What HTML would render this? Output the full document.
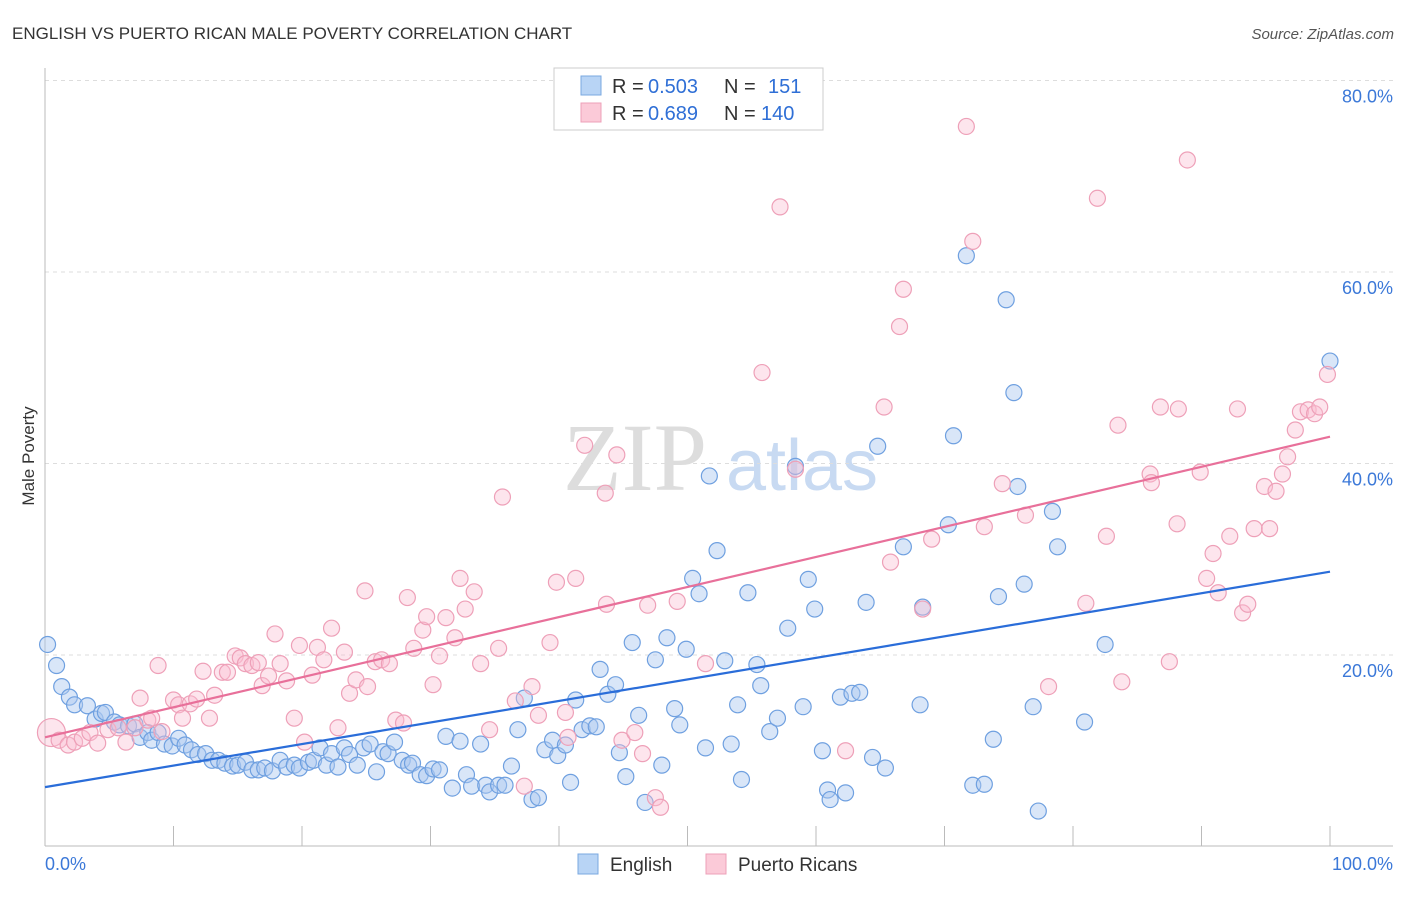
<!DOCTYPE html>
<html><head><meta charset="utf-8"><style>
body{margin:0;background:#fff;font-family:"Liberation Sans",sans-serif;}
</style></head><body>
<svg id="c" width="1406" height="892" xmlns="http://www.w3.org/2000/svg" font-family="Liberation Sans, sans-serif">
<text x="12" y="39" font-size="17" fill="#333">ENGLISH VS PUERTO RICAN MALE POVERTY CORRELATION CHART</text>
<text x="1394" y="39" font-size="15" fill="#555" text-anchor="end" font-style="italic">Source: ZipAtlas.com</text>
<text x="34" y="456" font-size="17" fill="#333" text-anchor="middle" transform="rotate(-90 34 456)">Male Poverty</text>
<g><text x="635" y="490" font-size="96" fill="#ddd" text-anchor="middle" style="font-family:'Liberation Serif',serif">ZIP</text><text x="802" y="490" font-size="72" fill="#c8daf2" text-anchor="middle">atlas</text></g>
<g id="grid"></g><g id="pts"></g><g id="lines"></g>
<g>
<rect x="554" y="68" width="269" height="62" fill="#fff" stroke="#ccc"/>
<rect x="581" y="76" width="20" height="19" fill="#b8d4f5" stroke="#7aa8e0"/>
<rect x="581" y="103" width="20" height="19" fill="#fbcad8" stroke="#eea0b8"/>
<text x="612" y="93" font-size="20" fill="#333">R =</text><text x="648" y="93" font-size="20" fill="#2f6fd6">0.503</text><text x="724" y="93" font-size="20" fill="#333">N =</text><text x="768" y="93" font-size="20" fill="#2f6fd6">151</text>
<text x="612" y="120" font-size="20" fill="#333">R =</text><text x="648" y="120" font-size="20" fill="#2f6fd6">0.689</text><text x="724" y="120" font-size="20" fill="#333">N =</text><text x="761" y="120" font-size="20" fill="#2f6fd6">140</text>
</g>
<g>
<rect x="578" y="854" width="20" height="20" fill="#b8d4f5" stroke="#7aa8e0"/>
<text x="610" y="871" font-size="19" fill="#333">English</text>
<rect x="706" y="854" width="20" height="20" fill="#fbcad8" stroke="#eea0b8"/>
<text x="738" y="871" font-size="19" fill="#333">Puerto Ricans</text>
</g>
</svg>
<script>
const yTicks=[20,40,60,80];
const yTickLabels=["20.0%","40.0%","60.0%","80.0%"];
const englishX=[0.2,0.9,1.3,1.9,2.3,3.3,3.9,4.4,4.7,5.4,5.8,6.5,7.0,7.4,8.0,8.3,8.8,9.3,9.9,10.4,10.9,11.4,11.9,12.5,13.0,13.5,14.0,14.6,15.0,15.6,16.1,16.6,17.1,17.7,18.3,18.8,19.4,19.8,20.5,20.9,21.4,21.9,22.3,22.8,23.3,23.7,24.3,24.8,25.3,25.8,26.3,26.7,27.2,27.8,28.3,28.6,29.2,29.7,30.2,30.7,31.2,31.7,32.3,32.8,33.2,33.9,34.3,34.6,35.3,35.8,36.3,36.8,37.3,37.9,38.4,38.9,39.5,39.9,40.5,40.9,41.3,41.8,42.4,42.9,43.2,43.8,44.4,44.7,45.2,45.7,46.2,46.7,47.5,48.0,48.4,49.0,49.4,49.9,50.4,50.9,51.4,51.7,52.3,52.9,53.4,53.9,54.2,54.7,55.4,55.7,56.4,57.0,57.8,58.4,59.0,59.4,59.9,60.5,60.9,61.1,61.9,62.3,62.8,63.4,63.9,64.4,64.8,65.4,66.8,68.1,68.3,70.3,70.7,71.7,72.2,73.1,73.8,74.2,74.8,75.4,75.7,76.2,76.9,77.3,78.4,78.8,80.9,82.5,100];
const englishY=[21.1,18.9,16.7,15.6,14.8,14.7,13.3,13.9,14.0,13.0,12.7,12.6,12.8,11.4,11.9,11.1,11.9,10.7,10.5,11.3,10.6,10.1,9.6,9.7,9.0,9.0,8.7,8.4,8.5,8.8,8.0,8.0,8.2,7.9,9.0,8.3,8.5,8.2,8.8,9.0,10.3,8.5,9.7,8.3,10.3,9.6,8.5,10.3,10.7,7.8,9.9,9.7,10.9,9.0,8.5,8.7,7.5,7.4,8.1,8.0,11.5,6.1,11.0,7.5,6.3,10.7,6.4,5.7,6.4,6.4,8.4,12.2,15.5,4.9,5.1,10.1,11.1,9.5,10.6,6.7,15.3,12.2,12.6,12.5,18.5,15.9,16.9,9.8,7.3,21.3,13.7,4.6,19.5,8.5,21.8,14.4,12.7,20.6,28.0,26.4,10.3,38.7,30.9,19.4,10.7,14.8,7.0,26.5,19.0,16.8,12.0,13.4,22.8,39.7,14.6,27.9,24.8,10.0,5.9,4.9,15.6,5.6,16.0,16.1,25.5,9.3,41.8,8.2,31.3,14.8,25.0,33.6,42.9,61.7,6.4,6.5,11.2,26.1,57.1,47.4,37.6,27.4,14.6,3.7,35.0,31.3,13.0,21.1,50.7];
const prX=[0.5,1.1,1.8,2.3,2.9,3.5,4.1,4.9,5.7,6.3,7.0,7.4,8.0,8.3,8.8,9.1,10.0,10.4,10.7,11.3,11.8,12.3,12.8,13.2,13.8,14.2,14.8,15.2,15.6,16.1,16.6,16.9,17.4,17.9,18.3,18.8,19.4,19.8,20.2,20.8,21.2,21.7,22.3,22.8,23.3,23.7,24.2,24.9,25.1,25.7,26.2,26.8,27.3,27.9,28.2,28.7,29.4,29.7,30.2,30.7,31.2,31.9,32.3,32.7,33.4,33.9,34.6,35.3,35.6,36.6,37.3,37.9,38.4,39.3,39.8,40.5,40.7,41.3,42.0,43.6,43.7,44.5,44.9,45.9,46.5,46.9,47.5,47.9,49.2,51.4,55.8,57.2,58.4,62.3,65.8,65.3,66.5,66.8,68.3,69.0,71.7,72.2,73.1,74.5,76.3,78.1,81.0,81.9,82.6,83.5,83.8,86.0,86.1,86.8,87.5,88.2,88.1,88.9,89.9,90.4,90.9,91.3,92.2,92.8,93.2,93.6,94.1,94.9,95.3,95.8,96.3,96.7,97.3,97.7,98.3,98.8,99.2,99.8];
const prY=[11.9,11.1,10.6,10.9,11.3,11.9,10.8,12.2,12.4,10.9,12.4,15.5,13.2,13.4,18.9,12.0,15.3,14.8,13.4,14.9,15.4,18.3,13.4,15.8,18.2,18.2,19.9,19.7,19.1,18.9,19.2,16.8,17.8,22.2,19.1,17.3,13.4,21.0,10.9,17.9,20.8,19.5,22.8,12.4,20.3,16.0,17.4,26.7,16.7,19.3,19.5,19.1,13.2,12.9,26.0,20.7,22.6,24.0,16.9,19.9,23.9,21.8,28.0,24.8,26.6,19.1,12.2,20.7,36.5,15.2,6.3,16.7,13.7,21.3,27.6,14.0,11.4,28.0,41.9,36.9,25.3,40.9,11.1,11.9,9.7,25.2,5.1,4.1,25.6,19.1,49.5,66.8,39.4,10.0,29.7,45.9,54.3,58.2,24.8,32.1,75.2,63.2,33.4,37.9,34.6,16.7,25.4,67.7,32.4,44.0,17.2,38.9,38.0,45.9,19.3,45.7,33.7,71.7,39.1,28.0,30.6,26.5,32.4,45.7,24.4,25.3,33.2,37.6,33.2,37.1,38.9,40.7,43.5,45.4,45.6,45.2,45.9,49.3];
const englishTrend=[6.2,28.7];
const prTrend=[11.4,42.8];
const NS='http://www.w3.org/2000/svg';
const X0=45,X1=1330,Y0=846.5,PY=9.575;
const sx=v=>X0+(X1-X0)*v/100, sy=v=>Y0-v*PY;
function mk(t,a,p){const e=document.createElementNS(NS,t);for(const k in a)e.setAttribute(k,a[k]);p.appendChild(e);return e;}
const g=document.getElementById('grid');
yTicks.forEach((t,i)=>{
 const l=mk('line',{x1:45,x2:1393,y1:sy(t),y2:sy(t),stroke:'#ddd','stroke-dasharray':'4,4'},g);
 
 
 const tx=mk('text',{x:1393,y:sy(t)+22,'font-size':18,fill:'#3b78d8','text-anchor':'end'},g);
 tx.textContent=yTickLabels[i];
 
 
});
const ax=mk('line',{x1:45,x2:45,y1:68,y2:846,stroke:'#bbb'},g);


const bx=mk('line',{x1:45,x2:1393,y1:846,y2:846,stroke:'#bbb'},g);


for(let i=1;i<=10;i++){const t=mk('line',{x1:sx(i*10),x2:sx(i*10),y1:826,y2:846,stroke:'#bbb'},g);
 
 }
[["0.0%",45,'start'],["100.0%",1393,'end']].forEach(a=>{const t=mk('text',{x:a[1],y:870,'font-size':18,fill:'#3b78d8','text-anchor':a[2]},g);t.textContent=a[0];
 
 });
const P=document.getElementById('pts');
function series(xs,ys,fill,stroke,name){xs.forEach((x,i)=>{const c=mk('circle',{cx:sx(x),cy:sy(ys[i]),r:(x<1&&name=='pr')?14:8,fill:fill,stroke:stroke,'stroke-width':1.2},P);
 
 });}
series(englishX,englishY,'rgba(170,200,240,0.45)','#6fa0e0','english');
series(prX,prY,'rgba(250,190,210,0.4)','#eea0b8','pr');
const L=document.getElementById('lines');
const l1=mk('line',{x1:sx(0),y1:sy(englishTrend[0]),x2:sx(100),y2:sy(englishTrend[1]),stroke:'#2a6dd9','stroke-width':2.2},L);


const l2=mk('line',{x1:sx(0),y1:sy(prTrend[0]),x2:sx(100),y2:sy(prTrend[1]),stroke:'#e8709a','stroke-width':2.2},L);


</script>
</body></html>
